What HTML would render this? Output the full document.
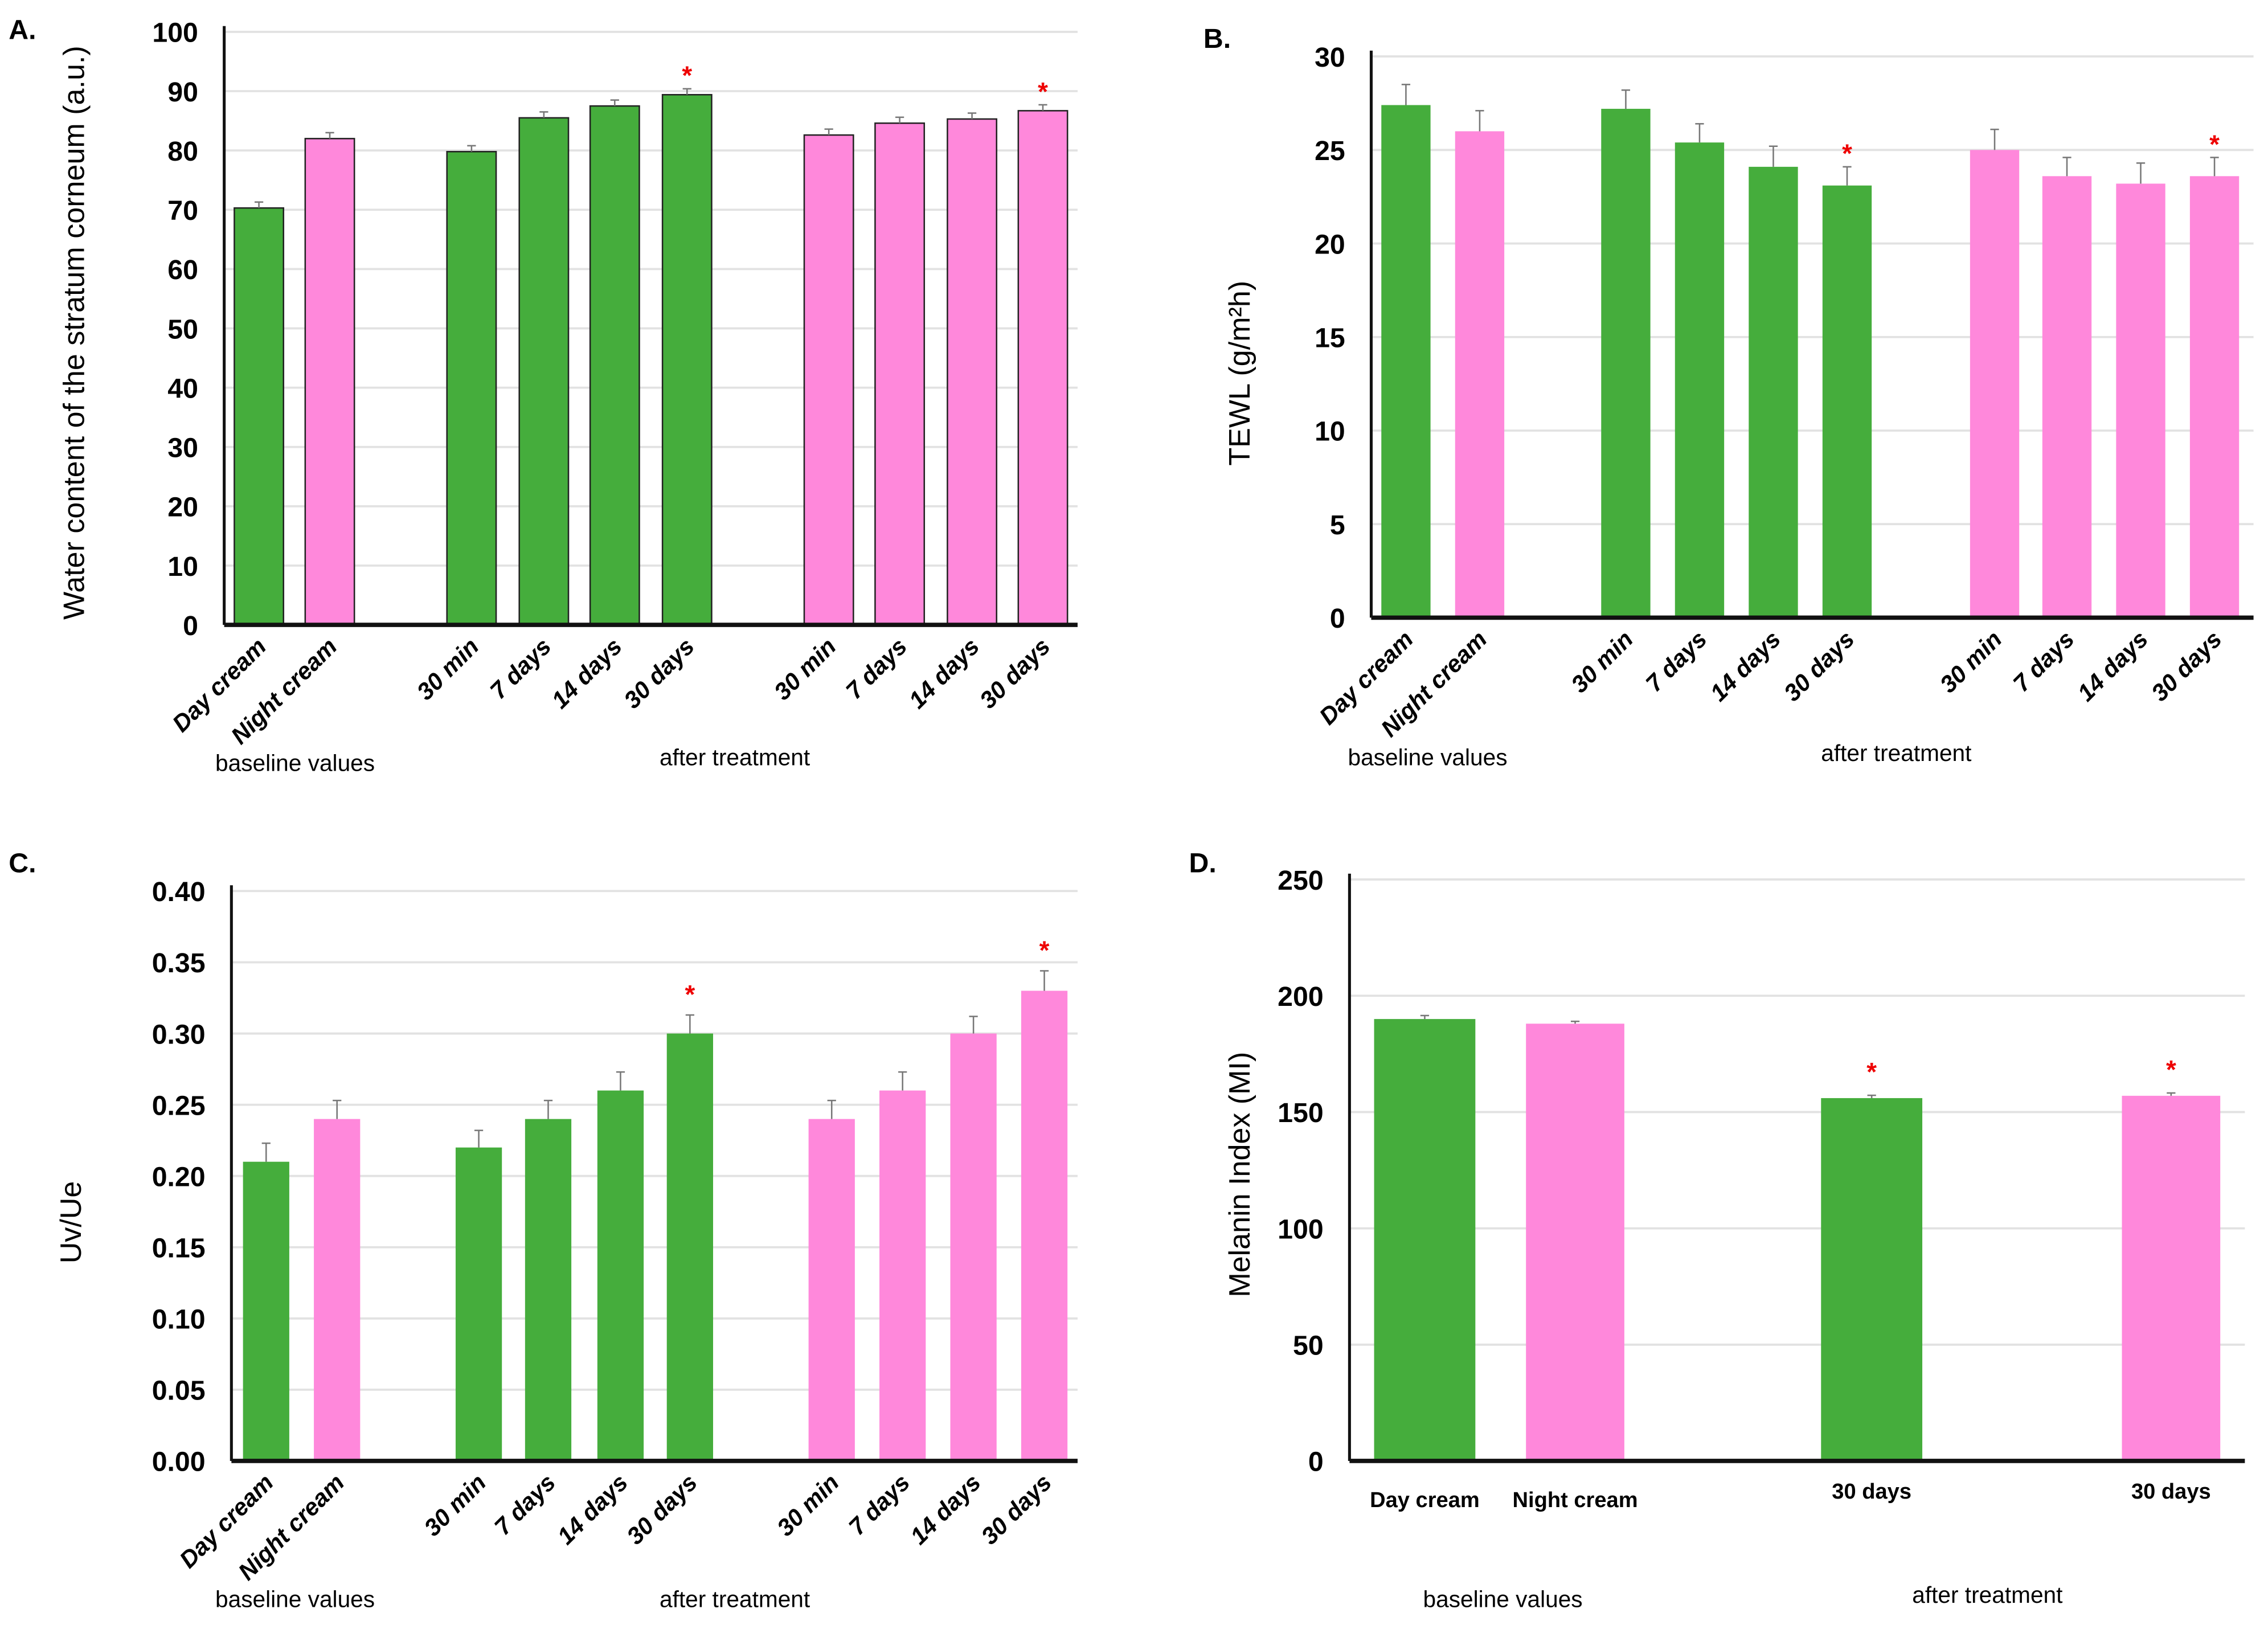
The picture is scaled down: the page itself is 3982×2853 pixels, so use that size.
<!DOCTYPE html>
<html><head><meta charset="utf-8"><style>
html,body{margin:0;padding:0;background:#fff}
svg{display:block}
text{font-family:"Liberation Sans",sans-serif}
.tick{font-size:19px;font-weight:bold;text-anchor:end}
.xl{font-size:16.5px;font-style:italic;font-weight:bold;text-anchor:end}
.grp{font-size:16px;text-anchor:middle}
.ttl{font-size:20.5px;text-anchor:middle}
.let{font-size:19px;font-weight:bold}
</style></head><body>
<svg id="fig" width="3982" height="2853" viewBox="0 0 1568 1123.4" xmlns="http://www.w3.org/2000/svg"></svg>
<script>
const GREEN="#45ad3c", PINK="#ff88db";
// Panel A
const aCats=["Day cream","Night cream","30 min","7 days","14 days","30 days","30 min","7 days","14 days","30 days"];
const aVals=[70.3,82,79.8,85.5,87.5,89.4,82.6,84.6,85.3,86.7];
const aErr=[1,1,1,1,1,1,1,1,1,1];
const aTicks=[0,10,20,30,40,50,60,70,80,90,100];
const aStars=[5,9];
// Panel B
const bCats=["Day cream","Night cream","30 min","7 days","14 days","30 days","30 min","7 days","14 days","30 days"];
const bVals=[27.4,26,27.2,25.4,24.1,23.1,25,23.6,23.2,23.6];
const bErr=[1.1,1.1,1,1,1.1,1,1.1,1,1.1,1];
const bTicks=[0,5,10,15,20,25,30];
const bStars=[5,9];
// Panel C
const cCats=["Day cream","Night cream","30 min","7 days","14 days","30 days","30 min","7 days","14 days","30 days"];
const cVals=[0.21,0.24,0.22,0.24,0.26,0.30,0.24,0.26,0.30,0.33];
const cErr=[0.013,0.013,0.012,0.013,0.013,0.013,0.013,0.013,0.012,0.014];
const cTicks=[0,0.05,0.10,0.15,0.20,0.25,0.30,0.35,0.40];
const cStars=[5,9];
// Panel D
const dCats=["Day cream","Night cream","30 days","30 days"];
const dVals=[190,188,156,157];
const dErr=[1.5,1,1.2,1.2];
const dTicks=[0,50,100,150,200,250];
const dStars=[2,3];
const colors10=[GREEN,PINK,GREEN,GREEN,GREEN,GREEN,PINK,PINK,PINK,PINK];
const colors4=[GREEN,PINK,GREEN,PINK];

const svg=document.getElementById('fig');
const NS="http://www.w3.org/2000/svg";
function el(tag,attrs,parent,txt){const e=document.createElementNS(NS,tag);for(const k in attrs)e.setAttribute(k,attrs[k]);if(txt!==undefined)e.textContent=txt;(parent||svg).appendChild(e);return e;}

function panel(cfg){
  const g=el('g',{});
  
  
  const max=cfg.ticks[cfg.ticks.length-1];
  const y=v=>cfg.y0-(v/max)*(cfg.y0-cfg.yTop);
  cfg.ticks.forEach(t=>{
    if(t>0){const gl=el('line',{x1:cfg.x0,x2:cfg.x1,y1:y(t),y2:y(t),stroke:"#e2e2e2","stroke-width":1.5},g);
      }
    const tl=el('text',{x:cfg.x0-18,y:y(t)+7,class:'tick'},g,cfg.fmt(t));
    
  });
  cfg.vals.forEach((v,i)=>{
    const cx=cfg.centers[i], w=cfg.widths[i];
    const b=el('rect',{x:cx-w/2,y:y(v),width:w,height:cfg.y0-y(v),fill:cfg.colors[i],stroke:cfg.outline?"#222":"none","stroke-width":1},g);
    
    const ey=y(v+cfg.err[i]);
    const e1=el('line',{x1:cx,x2:cx,y1:y(v),y2:ey,stroke:"#777","stroke-width":1},g);
    
    el('line',{x1:cx-3,x2:cx+3,y1:ey,y2:ey,stroke:"#777","stroke-width":1},g);
    if(cfg.stars.includes(i)){
      const s=el('text',{x:cx,y:ey-cfg.starGap,fill:"#e00","font-size":18,"font-weight":"bold","text-anchor":"middle"},g,"*");
      
    }
    if(cfg.rot){
      const px=cx+6, py=cfg.y0+16;
      const t=el('text',{x:px,y:py,class:'xl',transform:`rotate(-45 ${px} ${py})`},g,cfg.cats[i]);
      
    } else {
      const t=el('text',{x:cx,y:cfg.y0+(i<2?32:26),"font-size":15,"font-weight":"bold","text-anchor":"middle"},g,cfg.cats[i]);
      
    }
  });
  const ax=el('line',{x1:cfg.x0,x2:cfg.x0,y1:cfg.yTop-4,y2:cfg.y0,stroke:"#111","stroke-width":2},g);
  
  const xa=el('line',{x1:cfg.x0,x2:cfg.x1,y1:cfg.y0,y2:cfg.y0,stroke:"#111","stroke-width":3},g);
  
  const tt=el('text',{x:cfg.tx,y:cfg.ty,class:'ttl',transform:`rotate(-90 ${cfg.tx} ${cfg.ty})`},g,cfg.title);
  
  const l=el('text',{x:cfg.lx,y:cfg.ly,class:'let'},g,cfg.letter);
  
  const b1=el('text',{x:cfg.bx,y:cfg.by,class:'grp'},g,"baseline values");
  
  const b2=el('text',{x:cfg.ax,y:cfg.ay,class:'grp'},g,"after treatment");
  
}
const w10=a=>a.map(()=>34);
panel({name:'panel-a-water-content',cats:aCats,vals:aVals,err:aErr,ticks:aTicks,stars:aStars,fmt:t=>String(t),
  x0:155,x1:745,y0:432,yTop:22,centers:[179,228,326,376,425,475,573,622,672,721],widths:w10(aVals),colors:colors10,outline:true,rot:true,starGap:3,
  title:"Water content of the stratum corneum (a.u.)",tx:58,ty:230,letter:"A.",lx:6,ly:27,bx:204,by:533,ax:508,ay:529});
panel({name:'panel-b-tewl',cats:bCats,vals:bVals,err:bErr,ticks:bTicks,stars:bStars,fmt:t=>String(t),
  x0:948,x1:1558,y0:427,yTop:39,centers:[972,1023,1124,1175,1226,1277,1379,1429,1480,1531],widths:w10(bVals),colors:colors10,outline:false,rot:true,starGap:3,
  title:"TEWL (g/m²h)",tx:864,ty:258,letter:"B.",lx:832,ly:33,bx:987,by:529,ax:1311,ay:526});
panel({name:'panel-c-uv-ue',cats:cCats,vals:cVals,err:cErr,ticks:cTicks,stars:cStars,fmt:t=>t.toFixed(2),
  x0:160,x1:745,y0:1010,yTop:616,centers:[184,233,331,379,429,477,575,624,673,722],widths:cVals.map(()=>32),colors:colors10,outline:false,rot:true,starGap:8,
  title:"Uv/Ue",tx:56,ty:845,letter:"C.",lx:6,ly:603,bx:204,by:1111,ax:508,ay:1111});
panel({name:'panel-d-melanin-index',cats:dCats,vals:dVals,err:dErr,ticks:dTicks,stars:dStars,fmt:t=>String(t),
  x0:933,x1:1552,y0:1010,yTop:608,centers:[985,1089,1294,1501],widths:[70,68,70,68],colors:colors4,outline:false,rot:false,starGap:10,
  title:"Melanin Index (MI)",tx:864,ty:812,letter:"D.",lx:822,ly:603,bx:1039,by:1111,ax:1374,ay:1108});
</script>
</body></html>
